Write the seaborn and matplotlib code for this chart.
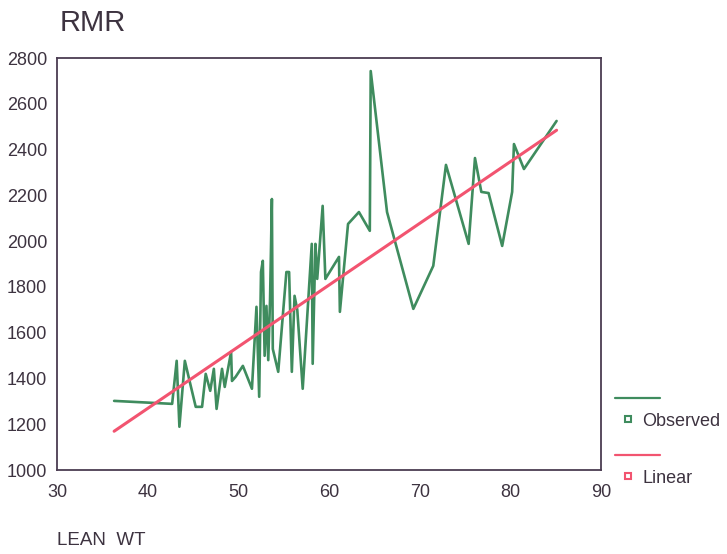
import numpy as np
import pandas as pd
import seaborn as sns
import matplotlib
matplotlib.use('Agg')
import matplotlib.pyplot as plt
from matplotlib.lines import Line2D
from matplotlib.legend_handler import HandlerLine2D

# observed RMR vs lean weight
lean_wt = [36.3, 42.7, 43.2, 43.5, 44.1, 44.7, 45.3, 46.0, 46.4, 46.9,
           47.3, 47.6, 48.2, 48.5, 49.2, 49.3, 49.7, 50.5, 51.5, 52.0,
           52.3, 52.5, 52.7, 52.9, 53.1, 53.3, 53.5, 53.7, 53.8, 54.4,
           55.3, 55.6, 55.9, 56.2, 56.5, 57.1, 58.1, 58.2, 58.5, 58.7,
           59.3, 59.6, 61.1, 61.2, 62.1, 63.3, 64.5, 64.6, 66.4, 69.3,
           71.5, 72.9, 75.4, 76.1, 76.8, 77.6, 79.1, 80.2, 80.4, 81.5,
           85.1]
rmr = [1302, 1289, 1477, 1189, 1477, 1376, 1276, 1276, 1420, 1346,
       1442, 1267, 1442, 1363, 1516, 1389, 1407, 1455, 1355, 1713,
       1320, 1865, 1914, 1499, 1717, 1480, 1748, 2184, 1529, 1429,
       1865, 1865, 1429, 1761, 1700, 1355, 1988, 1464, 1988, 1835,
       2154, 1835, 1931, 1691, 2075, 2127, 2045, 2743, 2127, 1704,
       1892, 2333, 1988, 2363, 2215, 2210, 1979, 2215, 2424, 2315,
       2525]

x_ticks = [30, 40, 50, 60, 70, 80, 90]
y_ticks = [1000, 1200, 1400, 1600, 1800, 2000, 2200, 2400, 2600, 2800]

GREEN = '#3f8c5e'
RED = '#f25470'
INK = '#3d3340'
FRAME = '#4b3d52'


class LeftMarker(HandlerLine2D):
    # SPSS style legend: small marker sits near the left of the swatch
    def create_artists(self, *args, **kwargs):
        arts = super().create_artists(*args, **kwargs)
        xd = arts[0].get_xdata()
        arts[0].set_xdata([xd[0], xd[0] + 0.29 * (xd[-1] - xd[0]), xd[-1]])
        return arts


df = pd.DataFrame({'lean_wt': lean_wt, 'rmr': rmr})
slope, icpt = np.polyfit(df['lean_wt'], df['rmr'], 1)
fit = pd.DataFrame({'lean_wt': [df['lean_wt'].min(), df['lean_wt'].max()]})
fit['rmr'] = icpt + slope * fit['lean_wt']

sns.set_style('white')
plt.rcParams['font.family'] = ['Liberation Sans', 'DejaVu Sans']

fig = plt.figure(figsize=(7.27, 5.54), dpi=100)
ax = fig.add_axes([0.0784, 0.1516, 0.7483, 0.7437])

sns.lineplot(data=df, x='lean_wt', y='rmr', estimator=None, sort=True,
             color=GREEN, lw=1.9, ax=ax)
sns.lineplot(data=fit, x='lean_wt', y='rmr', estimator=None,
             color=RED, lw=2.2, ax=ax)

ax.set_xlim(30, 90)
ax.set_ylim(1000, 2800)
ax.set_xticks(x_ticks)
ax.set_yticks(y_ticks)
ax.set_xlabel('')
ax.set_ylabel('')
for s in ax.spines.values():
    s.set_color(FRAME)
    s.set_linewidth(1.3)
ax.tick_params(direction='out', length=3, width=3, color='#222222',
               labelsize=13, labelcolor=INK)
ax.tick_params(axis='x', pad=7)
ax.tick_params(axis='y', pad=4)

fig.text(0.082, 0.958, 'RMR', fontsize=21, color=INK, va='center')
fig.text(0.078, 0.025, 'LEAN  WT', fontsize=13.5, color=INK, va='center')

series = [('Observed', GREEN, 391), ('Linear', RED, 448)]
for name, col, top_px in series:
    hs = [Line2D([], [], color=col, lw=1.6),
          Line2D([], [], marker='s', ms=5, mfc='none', mec=col, mew=1.5, ls='none')]
    leg = fig.legend(hs, [' ', name], loc='upper left',
                     bbox_to_anchor=(615 / 727, 1 - top_px / 554),
                     frameon=False, fontsize=13, handlelength=2.5,
                     handletextpad=-1.0, labelspacing=0.25,
                     borderpad=0, borderaxespad=0,
                     handler_map={hs[1]: LeftMarker()})
    for t in leg.get_texts():
        t.set_color(INK)

fig.savefig('out.png', dpi=100, facecolor='white')
